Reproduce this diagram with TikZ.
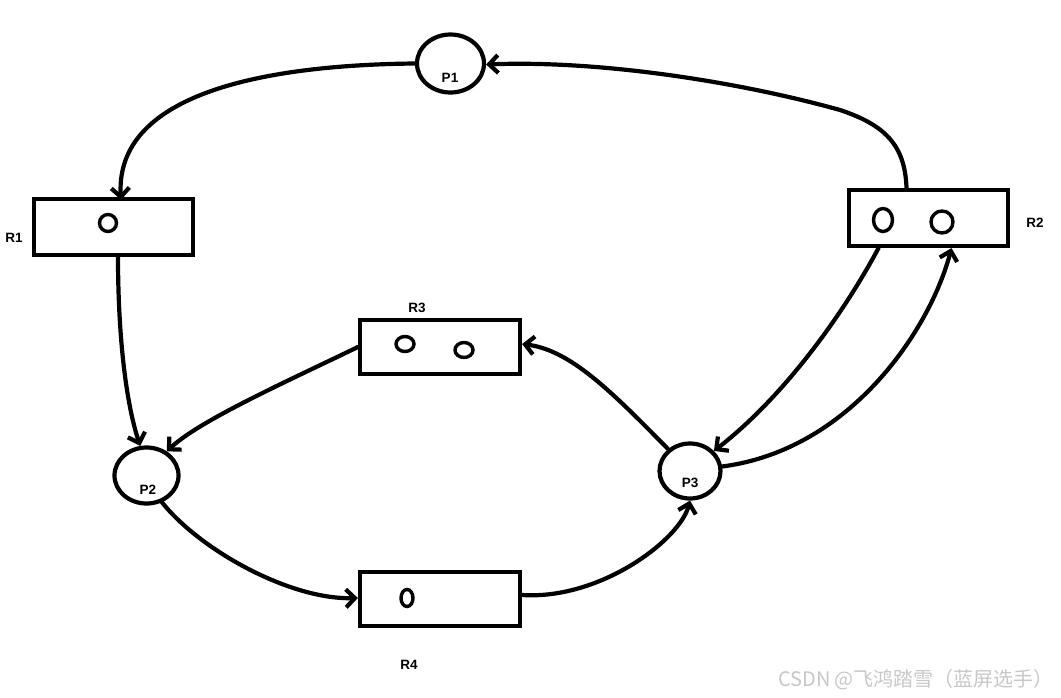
\documentclass[tikz,border=0pt]{standalone}
\usepackage{fontspec}
\setmainfont{Liberation Sans}
\newfontfamily\cjkfont{Noto Sans CJK SC}
\usetikzlibrary{shapes.geometric,arrows.meta}
\begin{document}
\begin{tikzpicture}[x=1pt,y=-1pt,
  line width=4.2pt,
  place/.style={draw,ellipse,inner sep=0pt},
  trans/.style={draw,rectangle,inner sep=0pt,minimum width=159pt},
  token/.style={draw,ellipse,inner sep=0pt,line width=3.4pt},
  lbl/.style={font=\bfseries\fontsize{13.5}{15}\selectfont,inner sep=0pt},
  arc/.style={-{Straight Barb[length=9pt,width=18pt]},line cap=round,line join=round}]
\useasboundingbox (0,0) rectangle (1061,697);
% places
\node[place,minimum width=67pt,minimum height=58pt] (P1) at (450.5,63.5) {};
\node[place,minimum width=64pt,minimum height=56pt] (P2) at (146.5,475.5) {};
\node[place,minimum width=61pt,minimum height=55pt] (P3) at (690,471) {};
% transitions
\node[trans,minimum height=56pt] (R1) at (113.5,227) {};
\node[trans,minimum height=56pt] (R2) at (928.5,218) {};
\node[trans,minimum width=160pt,minimum height=54pt] (R3) at (440,347) {};
\node[trans,minimum width=160pt,minimum height=54pt] (R4) at (440,599) {};
% tokens
\node[token,minimum width=17pt,minimum height=17pt] (t1) at (108,223) {};
\node[token,minimum width=19pt,minimum height=23pt] (t2) at (883,220) {};
\node[token,minimum width=22pt,minimum height=22pt] (t3) at (942,222) {};
\node[token,minimum width=18pt,minimum height=15pt] (t4) at (405,344) {};
\node[token,minimum width=18pt,minimum height=15pt] (t5) at (464,350) {};
\node[token,minimum width=12pt,minimum height=17pt] (t6) at (407,598) {};
% labels
\node[lbl] (lP1) at (450,78) {P1};
\node[lbl] (lP2) at (148,490) {P2};
\node[lbl] (lP3) at (690,483) {P3};
\node[lbl] (lR1) at (14,238) {R1};
\node[lbl] (lR2) at (1035,223) {R2};
\node[lbl] (lR3) at (417,308) {R3};
\node[lbl] (lR4) at (409,665) {R4};
% arcs
\draw[arc] (P1.west) .. controls (260,65) and (115,95) .. ([xshift=7.5pt,yshift=-3pt]R1.north);
\draw[arc] ([xshift=-22pt]R2.north) .. controls (905,145) and (885,125) .. (840,110) .. controls (740,82) and (600,60) .. ([yshift=-1pt]P1.east);
\draw[arc] ([xshift=4.5pt]R1.south) .. controls (118,330) and (125,400) .. (P2.102);
\draw[arc] (R3.west) .. controls (290,380) and (200,420) .. (P2.50);
\draw[arc] (P2.-60) .. controls (200,550) and (290,600) .. ([yshift=1pt]R4.west);
\draw[arc] ([yshift=4pt]R4.east) .. controls (600,600) and (680,540) .. (P3.-90);
\draw[arc] (P3.135) .. controls (610,390) and (570,350) .. ([yshift=3pt]R3.east);
\draw[arc] ([xshift=-50pt]R2.south) .. controls (840,320) and (780,400) .. (P3.40);
\draw[arc] (P3.8) .. controls (850,450) and (930,330) .. ([xshift=23pt]R2.south);
% watermark
\node[anchor=east,inner sep=0pt,text=black!22,font=\cjkfont\fontsize{20}{22}\selectfont] (wm) at (1056,680) {CSDN @飞鸿踏雪（蓝屏选手）};
\end{tikzpicture}
\end{document}
